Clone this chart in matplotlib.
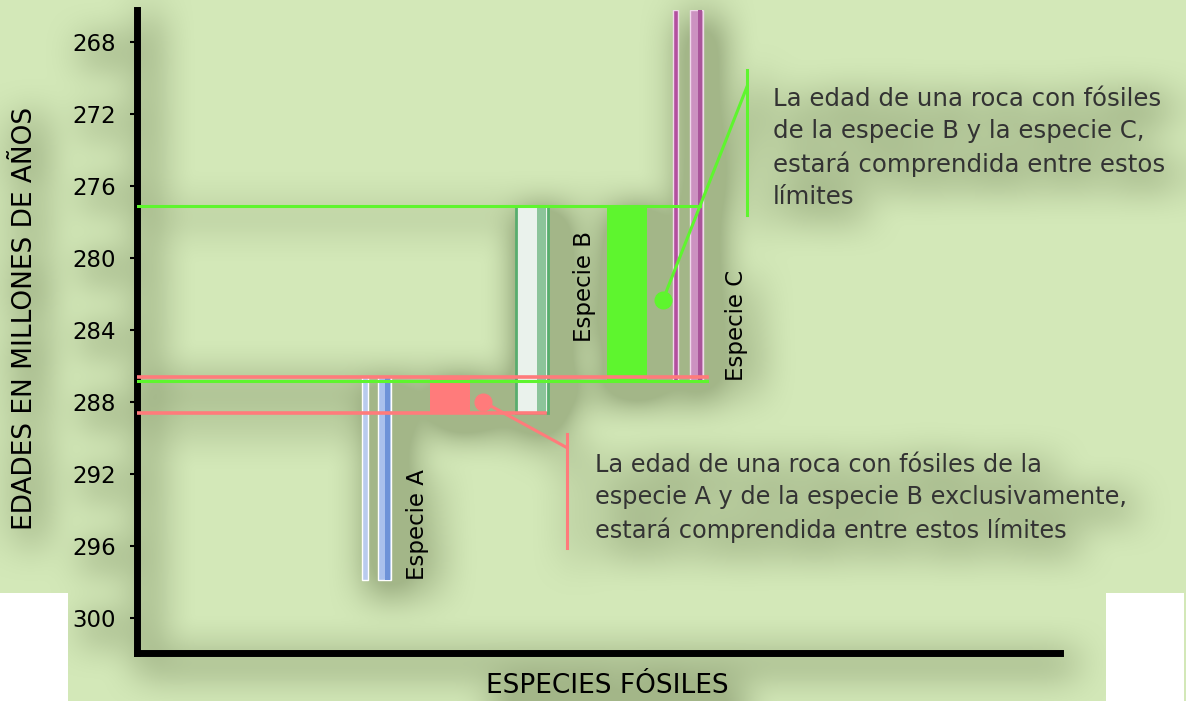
import numpy as np
import matplotlib.pyplot as plt
from matplotlib.patches import Rectangle

plt.rcParams['font.family'] = ['DejaVu Sans']

# datos
yticks = [268, 272, 276, 280, 284, 288, 292, 296, 300]
species = ['Especie A', 'Especie B', 'Especie C']
first_age = [286.6, 277.1, 266.2]   # aparicion (mas reciente)
last_age = [297.9, 288.6, 286.8]    # extincion (mas antigua)
notes = ['La edad de una roca con fósiles de la\n'
         'especie A y de la especie B exclusivamente,\n'
         'estará comprendida entre estos límites',
         'La edad de una roca con fósiles\n'
         'de la especie B y la especie C,\n'
         'estará comprendida entre estos\n'
         'límites']

BG = '#d3e8b8'
RED = '#ff7b7b'
GREEN = '#5ef52e'

fig = plt.figure(figsize=(11.86, 7.01), dpi=100, facecolor=BG)
ax = fig.add_axes([137 / 1186, 48 / 701, 923 / 1186, 643 / 701])
ax.set_facecolor('none')
ax.set_xlim(0, 100)
ax.set_ylim(301.95, 266.2)

# barras de cada especie (x en unidades del eje)
a0, a1 = first_age[0], last_age[0]
ax.add_patch(Rectangle((24.4, a0), 0.65, a1 - a0, fc='#b9cbee', ec='white', lw=1, zorder=2))
ax.add_patch(Rectangle((26.1, a0), 1.4, a1 - a0, fc='#a9c0ec', ec='white', lw=1, zorder=2))
ax.add_patch(Rectangle((26.9, a0), 0.55, a1 - a0, fc='#6d92d8', lw=0, zorder=2))

b0, b1 = first_age[1], last_age[1]
ax.add_patch(Rectangle((41.1, b0), 3.4, b1 - b0, fc='#eaf2ec', ec='#58ad6e', lw=2, zorder=2))
ax.add_patch(Rectangle((43.3, b0), 1.0, b1 - b0, fc='#8cc49a', lw=0, zorder=2))

c0, c1 = first_age[2], last_age[2]
ax.add_patch(Rectangle((58.05, c0), 0.55, c1 - c0, fc='#b3509f', ec='#f0d8ea', lw=1, zorder=2))
ax.add_patch(Rectangle((59.9, c0), 1.4, c1 - c0, fc='#cc92c1', ec='#f0d8ea', lw=1, zorder=2))
ax.add_patch(Rectangle((60.8, c0), 0.45, c1 - c0, fc='#a9559a', lw=0, zorder=2))

# intervalos comunes
ax.add_patch(Rectangle((31.7, first_age[0]), 4.4, last_age[1] - first_age[0], fc=RED, lw=0, zorder=3))
ax.add_patch(Rectangle((50.9, first_age[1]), 4.35, last_age[2] - first_age[1], fc=GREEN, lw=0, zorder=3))

# lineas de limite
ax.plot([0, 61.0], [first_age[1]] * 2, color=GREEN, lw=2.2, zorder=4)
ax.plot([0, 61.8], [last_age[2]] * 2, color=GREEN, lw=2.2, zorder=4)
ax.plot([0, 61.8], [first_age[0]] * 2, color=RED, lw=2.6, zorder=4)
ax.plot([0, 44.2], [last_age[1]] * 2, color=RED, lw=2.6, zorder=4)

# notas con llamada
ax.plot([37.5, 46.6], [287.98, 290.54], color=RED, lw=2.2, zorder=5)
ax.plot(37.5, 287.98, 'o', color=RED, ms=12, zorder=5)
ax.plot([46.6, 46.6], [289.76, 296.1], color=RED, lw=2.2, zorder=5, clip_on=False)
ax.plot([57.0, 66.1], [282.3, 270.45], color=GREEN, lw=2.2, zorder=5)
ax.plot(57.0, 282.3, 'o', color=GREEN, ms=12, zorder=5)
ax.plot([66.1, 66.1], [269.56, 277.57], color=GREEN, lw=2.2, zorder=5)

ax.text(49.6, 290.85, notes[0], fontsize=17.3, color='#333333', va='top', ha='left',
        linespacing=1.41, zorder=6)
ax.text(68.9, 270.5, notes[1], fontsize=17.6, color='#333333', va='top', ha='left',
        linespacing=1.41, zorder=6, clip_on=False)

# nombres de especies
ax.text(30.4, last_age[0], species[0], rotation=90, fontsize=16.5, ha='center', va='bottom', zorder=6)
ax.text(48.5, 281.6, species[1], rotation=90, fontsize=16.5, ha='center', va='center', zorder=6)
ax.text(65.0, last_age[2], species[2], rotation=90, fontsize=16.5, ha='center', va='bottom', zorder=6)

# ejes
for s in ['top', 'right']:
    ax.spines[s].set_visible(False)
for s in ['left', 'bottom']:
    ax.spines[s].set_linewidth(5)
ax.set_yticks(yticks)
ax.set_yticklabels([str(t) for t in yticks], fontsize=16.5)
ax.tick_params(axis='y', length=5, width=1.5, pad=10)
ax.set_xticks([])
fig.text(25 / 1186, 1 - 318 / 701, 'EDADES EN MILLONES DE AÑOS', rotation=90,
         fontsize=19, ha='center', va='center')
fig.text(607 / 1186, 1 - 686 / 701, 'ESPECIES FÓSILES', fontsize=19, ha='center', va='center')

# sombra difusa bajo todos los elementos
def box_blur(a, r):
    for axis in (0, 1):
        pad = [(0, 0), (0, 0)]
        pad[axis] = (r + 1, r)
        c = np.cumsum(np.pad(a, pad, mode='edge'), axis=axis)
        if axis == 0:
            a = (c[2 * r + 1:] - c[:-2 * r - 1]) / (2 * r + 1)
        else:
            a = (c[:, 2 * r + 1:] - c[:, :-2 * r - 1]) / (2 * r + 1)
    return a

fig.canvas.draw()
buf = np.asarray(fig.canvas.buffer_rgba())[..., :3].astype(float) / 255
bg = np.array([0xd3, 0xe8, 0xb8]) / 255
raw = (np.abs(buf - bg).sum(-1) > 0.15).astype(float)
mask = np.zeros_like(raw)
mask[10:, 10:] = raw[:-10, :-10]
for _ in range(3):
    mask = box_blur(mask, 16)
shade = np.clip(mask * 3.5, 0, 1) ** 0.8 * 0.40
img = np.zeros(mask.shape + (4,))
img[..., 0], img[..., 1], img[..., 2] = 0.36, 0.42, 0.26
img[..., 3] = shade
fig.figimage(img, xo=0, yo=0, origin='upper', zorder=-5)

# recortes blancos de la imagen original
fig.add_artist(Rectangle((0, 0), 68 / 1186, 108 / 701, transform=fig.transFigure,
                         fc='white', lw=0, zorder=20))
fig.add_artist(Rectangle((1106 / 1186, 0), 78 / 1186, 108 / 701, transform=fig.transFigure,
                         fc='white', lw=0, zorder=20))

fig.savefig('out.png', dpi=100, facecolor=BG)
